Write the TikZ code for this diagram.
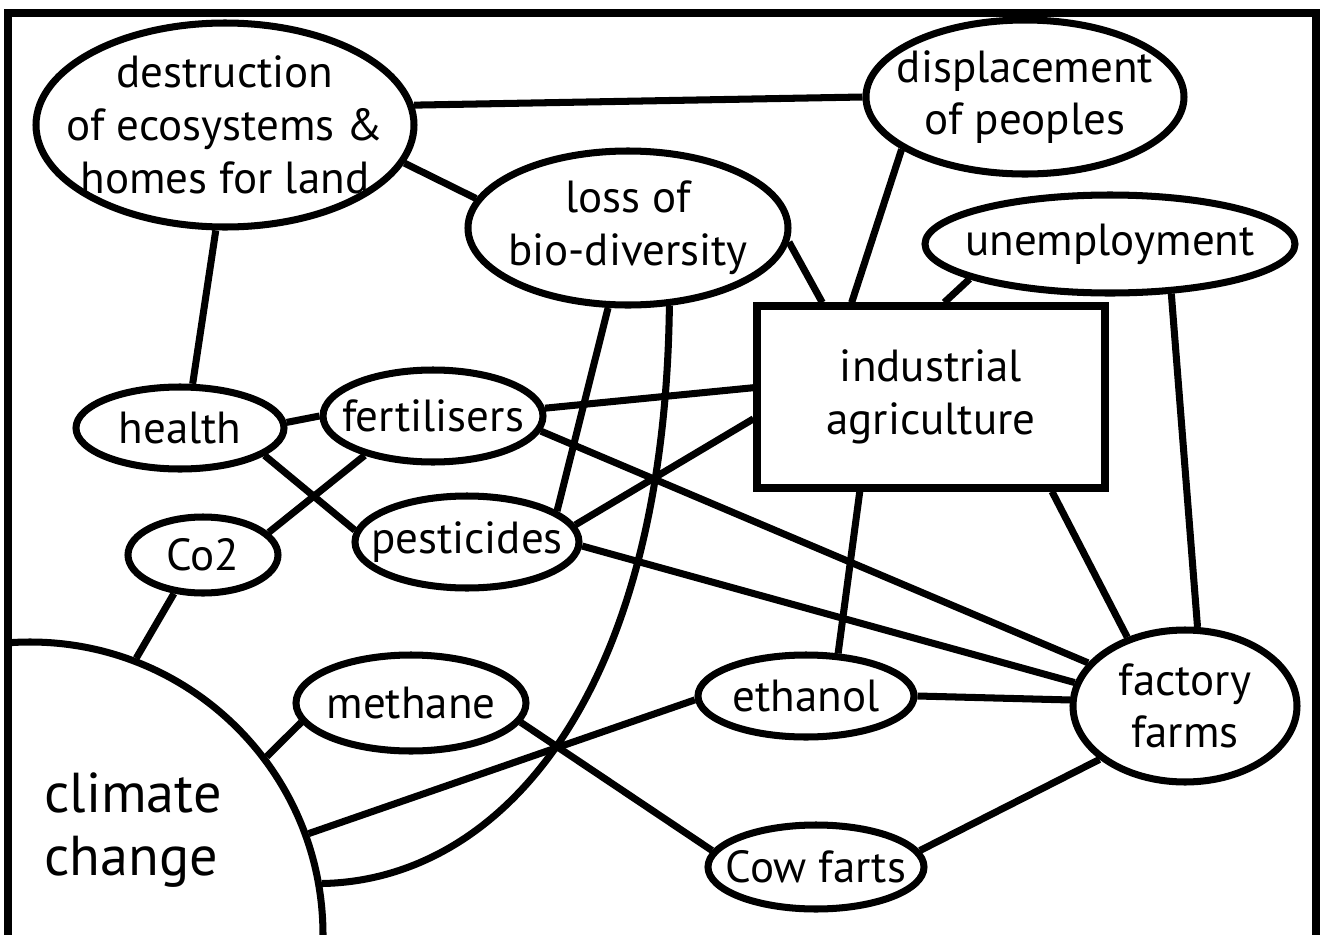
\documentclass[tikz,border=0pt]{standalone}
\usepackage{fontspec}
\setmainfont{PT Sans}
\usetikzlibrary{shapes.geometric}

\begin{document}
\begin{tikzpicture}
\tikzstyle{every node} = [align=center, font=\fontsize{12.8}{15}\selectfont]
\tikzstyle{bubble} = [ellipse, draw, line width=2pt, inner sep=-2cm]
\tikzstyle{link} = [line width=2pt]

\useasboundingbox (0,0) rectangle (13.21,-9.35);
\draw[line width=2pt] (0.08,-9.40) -- (0.08,-0.13) -- (13.16,-0.13) -- (13.16,-9.40);

\begin{scope}
\clip (0.08,0) rectangle (13.21,-9.35);
\path (0.30,-9.35) node [circle, draw, line width=2pt, inner sep=0pt, minimum size=5.86cm] (climate) {};
\end{scope}

\path (2.25,-1.25) node [bubble, minimum width=3.78cm, minimum height=2.04cm] (destroy) {destruction\\of ecosystems \&\\homes for land}
		(10.25,-0.97) node [bubble, minimum width=3.18cm, minimum height=1.54cm] (displace) {displacement\\of peoples}
		(11.10,-2.44) node [bubble, minimum width=3.70cm, minimum height=0.98cm] (unemploy) {unemployment}
		(6.28,-2.28) node [bubble, minimum width=3.20cm, minimum height=1.54cm] (loss) {loss of\\bio-diversity}
		(9.31,-3.97) node [rectangle, draw, line width=2pt, minimum width=3.48cm, minimum height=1.82cm] (indag) {industrial\\agriculture}
		(1.80,-4.28) node [bubble, minimum width=2.08cm, minimum height=0.82cm] (health) {health}
		(4.33,-4.16) node [bubble, minimum width=2.20cm, minimum height=0.92cm] (fert) {fertilisers}
		(4.67,-5.42) node [bubble, minimum width=2.24cm, minimum height=0.92cm] (pest) {pesticides}
		(2.03,-5.55) node [bubble, minimum width=1.50cm, minimum height=0.76cm] (co2) {Co2}
		(4.11,-7.03) node [bubble, minimum width=2.30cm, minimum height=0.96cm] (methane) {methane}
		(8.06,-6.96) node [bubble, minimum width=2.16cm, minimum height=0.82cm] (ethanol) {ethanol}
		(8.16,-8.67) node [bubble, minimum width=2.16cm, minimum height=0.84cm] (cowfarts) {Cow farts}
		(11.85,-7.06) node [bubble, minimum width=2.24cm, minimum height=1.52cm] (factory) {factory\\farms}
		(0.32,-8.30) node [anchor=west, align=left, font=\fontsize{16}{18}\selectfont] (climatelbl) {climate\\change};

	\draw[link] (node cs:name=destroy,anchor=6) -- (node cs:name=displace,anchor=180);
	\draw[link] (node cs:name=destroy,anchor=-12) -- (node cs:name=loss,anchor=169);
	\draw[link] (node cs:name=destroy,anchor=-95) -- (node cs:name=health,anchor=74);
	\draw[link] (node cs:name=displace,anchor=203) -- (node cs:name=indag,anchor=130);
	\draw[link] (node cs:name=unemploy,anchor=194) -- (node cs:name=indag,anchor=82);
	\draw[link] (node cs:name=unemploy,anchor=-39) -- (node cs:name=factory,anchor=81);
	\draw[link] (node cs:name=loss,anchor=-5) -- (node cs:name=indag,anchor=139);
	\draw[link] (node cs:name=loss,anchor=-104) -- (node cs:name=pest,anchor=19);
	\draw[link] (node cs:name=loss,anchor=-62) .. controls +(-0.05,-3.93) and +(1.77,0.03) .. (node cs:name=climate,anchor=10);
	\draw[link] (node cs:name=health,anchor=3) -- (node cs:name=fert,anchor=180);
	\draw[link] (node cs:name=health,anchor=-18) -- (node cs:name=pest,anchor=174);
	\draw[link] (node cs:name=co2,anchor=19) -- (node cs:name=fert,anchor=-150);
	\draw[link] (node cs:name=co2,anchor=-127) -- (node cs:name=climate,anchor=69);
	\draw[link] (node cs:name=fert,anchor=4) -- (node cs:name=indag,anchor=177);
	\draw[link] (node cs:name=pest,anchor=9) -- (node cs:name=indag,anchor=187);
	\draw[link] (node cs:name=fert,anchor=-8) -- (node cs:name=factory,anchor=156);
	\draw[link] (node cs:name=pest,anchor=-2) -- (node cs:name=factory,anchor=168);
	\draw[link] (node cs:name=indag,anchor=-127) -- (node cs:name=ethanol,anchor=53);
	\draw[link] (node cs:name=indag,anchor=-38) -- (node cs:name=factory,anchor=130);
	\draw[link] (node cs:name=ethanol,anchor=0) -- (node cs:name=factory,anchor=177);
	\draw[link] (node cs:name=climate,anchor=20) -- (node cs:name=ethanol,anchor=182);
	\draw[link] (node cs:name=climate,anchor=37) -- (node cs:name=methane,anchor=190);
	\draw[link] (node cs:name=methane,anchor=-10) -- (node cs:name=cowfarts,anchor=171);
	\draw[link] (node cs:name=cowfarts,anchor=9) -- (node cs:name=factory,anchor=212);
\end{tikzpicture}
\end{document}
